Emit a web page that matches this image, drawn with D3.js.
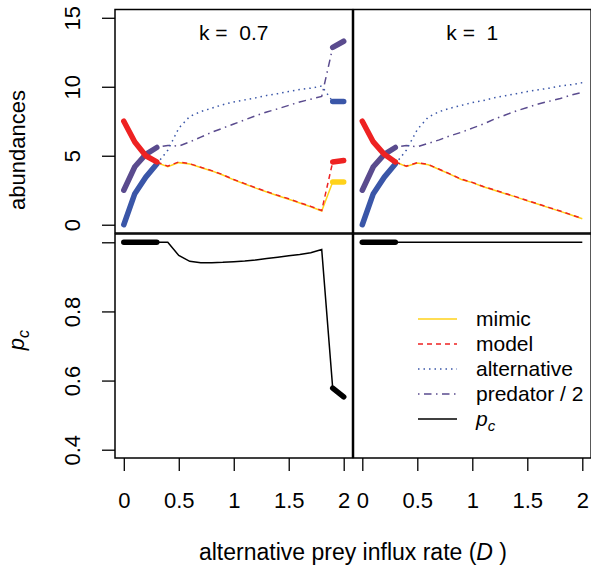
<!DOCTYPE html>
<html lang="en">
<head>
<meta charset="UTF-8">
<title>abundances and p_c</title>
<script src="https://cdn.jsdelivr.net/npm/d3@7"></script>
<style>
    body { margin: 0; background: #fff; }
    svg { display: block; }
    text { font-family: "Liberation Sans", Arial, Helvetica, sans-serif; fill: #000; }
    .tick line { stroke: #000; stroke-width: 1.3; }
    .tick text { font-size: 22px; }
</style>
</head>
<body>
<script>
// alternative prey influx rate
var D = [0, 0.1, 0.2, 0.3, 0.4, 0.5, 0.6, 0.7, 0.8, 0.9, 1.0, 1.1, 1.2, 1.3, 1.4, 1.5, 1.6, 1.7, 1.8, 1.9, 2.0];

// k = 0.7
var mimic07 = [null, null, null, 4.5, 4.2, 4.5, 4.4, 4.15, 3.9, 3.6, 3.25, 2.95, 2.65, 2.37, 2.1, 1.85, 1.57, 1.3, 1.0, 3.1, 3.1];
var model07 = [7.5, 6.0, 5.0, 4.55, 4.25, 4.55, 4.42, 4.17, 3.92, 3.63, 3.28, 2.98, 2.68, 2.4, 2.13, 1.88, 1.6, 1.33, 1.03, 4.55, 4.65];
var alt07   = [0, 2.25, 3.45, 4.4, 5.4, 7.0, 7.85, 8.2, 8.45, 8.7, 8.9, 9.05, 9.2, 9.37, 9.5, 9.65, 9.8, 9.9, 10.05, 8.93, 8.93];
var pred07  = [2.5, 4.2, 5.1, 5.6, 5.75, 5.7, 6.0, 6.35, 6.7, 7.0, 7.3, 7.6, 7.9, 8.17, 8.4, 8.65, 8.9, 9.1, 9.3, 12.85, 13.3];
var pc07    = [1, 1, 1, 1, 1, 0.962, 0.945, 0.941, 0.941, 0.942, 0.944, 0.946, 0.949, 0.953, 0.957, 0.961, 0.965, 0.97, 0.979, 0.578, 0.553];
var stable07 = [[0, 0.3], [1.9, 2.0]];

// k = 1
var mimic1 = [null, null, null, 4.55, 4.23, 4.48, 4.35, 4.0, 3.65, 3.28, 3.05, 2.75, 2.5, 2.25, 2.0, 1.73, 1.48, 1.22, 0.97, 0.7, 0.43];
var model1 = [7.5, 6.0, 5.1, 4.55, 4.25, 4.5, 4.37, 4.02, 3.67, 3.3, 3.07, 2.77, 2.52, 2.27, 2.02, 1.75, 1.5, 1.24, 0.99, 0.72, 0.45];
var alt1   = [0, 2.25, 3.45, 4.4, 5.4, 6.9, 7.8, 8.2, 8.45, 8.65, 8.85, 9.0, 9.2, 9.35, 9.5, 9.65, 9.78, 9.9, 10.05, 10.15, 10.3];
var pred1  = [2.5, 4.2, 5.1, 5.6, 5.75, 5.65, 5.9, 6.15, 6.45, 6.7, 7.0, 7.3, 7.65, 7.95, 8.25, 8.5, 8.75, 8.95, 9.15, 9.4, 9.6];
var pc1    = [1, 1, 1, 1, 1, 1, 1, 1, 1, 1, 1, 1, 1, 1, 1, 1, 1, 1, 1, 1, 1];
var stable1 = [[0, 0.3]];

var kLabels = ["k =  0.7", "k =  1"];
var xTicks = [0, 0.5, 1, 1.5, 2];
var abTicks = [0, 5, 10, 15];
var pcTicks = [0.4, 0.6, 0.8, 1.0];
var pcTickLabels = ["0.4", "0.6", "0.8", ""];
var legendNames = ["mimic", "model", "alternative", "predator / 2", "p_c"];

var W = 591, H = 569;
var cols = [{left: 115, right: 352.5}, {left: 353.5, right: 591.1}],
    rowTop = {top: 9.5, bottom: 233},
    rowBot = {top: 234, bottom: 458};

var colors = {mimic: "#FFD21A", model: "#EE2222", alt: "#3A56A8", pred: "#5A4B8E", pc: "#000"};
var dashes = {mimic: null, model: "5,4", alt: "1.5,4", pred: "1.5,4.5,7.5,4.5", pc: null};
var thin = 1.5, thick = 5.5;

var svg = d3.select("body").append("svg")
    .attr("width", W)
    .attr("height", H);

var panels = [
    {series: {mimic: mimic07, model: model07, alt: alt07, pred: pred07}, pc: pc07, stable: stable07},
    {series: {mimic: mimic1, model: model1, alt: alt1, pred: pred1}, pc: pc1, stable: stable1}
];

function isStable(d, ranges) {
    return ranges.some(function (r) { return d >= r[0] - 1e-9 && d <= r[1] + 1e-9; });
}

// a point belongs to the thin part if it touches a pair that is not fully stable
function isThin(i, ranges) {
    var prev = i > 0 && !(isStable(D[i - 1], ranges) && isStable(D[i], ranges));
    var next = i < D.length - 1 && !(isStable(D[i], ranges) && isStable(D[i + 1], ranges));
    return prev || next;
}

function drawSeries(g, x, y, values, ranges, color, dash) {
    var thickLine = d3.line()
        .defined(function (v, i) { return v != null && isStable(D[i], ranges); })
        .x(function (v, i) { return x(D[i]); })
        .y(function (v) { return y(v); });
    var thinLine = d3.line()
        .defined(function (v, i) { return v != null && isThin(i, ranges); })
        .x(function (v, i) { return x(D[i]); })
        .y(function (v) { return y(v); });

    g.append("path")
        .attr("d", thinLine(values))
        .attr("fill", "none")
        .attr("stroke", color)
        .attr("stroke-width", thin)
        .attr("stroke-dasharray", dash);
    g.append("path")
        .attr("d", thickLine(values))
        .attr("fill", "none")
        .attr("stroke", color)
        .attr("stroke-width", thick)
        .attr("stroke-linecap", "round")
        .attr("stroke-linejoin", "round");
}

panels.forEach(function (p, c) {
    var col = cols[c];
    var x = d3.scaleLinear().domain([-0.08, 2.08]).range([col.left, col.right]);
    var yAb = d3.scaleLinear().domain([-0.6, 15.6]).range([rowTop.bottom, rowTop.top]);
    var yPc = d3.scaleLinear().domain([0.376, 1.024]).range([rowBot.bottom, rowBot.top]);

    // top panel: abundances
    var gt = svg.append("g");
    ["mimic", "pred", "alt", "model"].forEach(function (key) {
        drawSeries(gt, x, yAb, p.series[key], p.stable, colors[key], dashes[key]);
    });
    gt.append("text")
        .attr("x", (col.left + col.right) / 2)
        .attr("y", 40)
        .attr("text-anchor", "middle")
        .style("font-size", "21px")
        .style("white-space", "pre")
        .text(kLabels[c]);

    // bottom panel: p_c
    var gb = svg.append("g");
    drawSeries(gb, x, yPc, p.pc, p.stable, colors.pc, null);

    [rowTop, rowBot].forEach(function (r) {
        svg.append("rect")
            .attr("x", col.left)
            .attr("y", r.top)
            .attr("width", col.right - col.left)
            .attr("height", r.bottom - r.top)
            .attr("fill", "none")
            .attr("stroke", "#000")
            .attr("stroke-width", 1.5);
    });

    // x axis under the bottom panel
    var xa = svg.append("g")
        .attr("transform", "translate(0," + rowBot.bottom + ")")
        .call(d3.axisBottom(x).tickValues(xTicks).tickSize(13).tickFormat(d3.format("")));
    xa.select(".domain").remove();
    xa.selectAll(".tick text").attr("y", 50).attr("dy", 0);

    if (c === 0) {
        var ya = svg.append("g")
            .attr("transform", "translate(" + col.left + ",0)")
            .call(d3.axisLeft(yAb).tickValues(abTicks).tickSize(13));
        ya.select(".domain").remove();
        ya.selectAll(".tick text")
            .attr("x", 0).attr("dy", 0).attr("y", -35)
            .attr("text-anchor", "middle")
            .attr("transform", "rotate(-90)");

        var yb = svg.append("g")
            .attr("transform", "translate(" + col.left + ",0)")
            .call(d3.axisLeft(yPc).tickValues(pcTicks).tickSize(13)
                .tickFormat(function (d, i) { return pcTickLabels[i]; }));
        yb.select(".domain").remove();
        yb.selectAll(".tick text")
            .attr("x", 0).attr("dy", 0).attr("y", -35)
            .attr("text-anchor", "middle")
            .attr("transform", "rotate(-90)");
    }
});

// axis titles
svg.append("text")
    .attr("transform", "translate(25,150) rotate(-90)")
    .attr("text-anchor", "middle")
    .style("font-size", "22px")
    .text("abundances");

var pcLab = svg.append("text")
    .attr("transform", "translate(24,340) rotate(-90)")
    .attr("text-anchor", "middle")
    .style("font-size", "22px");
pcLab.append("tspan").style("font-style", "italic").text("p");
pcLab.append("tspan").style("font-style", "italic").style("font-size", "16px").attr("dy", 5).text("c");

var xLab = svg.append("text")
    .attr("x", 353)
    .attr("y", 560)
    .attr("text-anchor", "middle")
    .style("font-size", "23px");
xLab.append("tspan").text("alternative prey influx rate (");
xLab.append("tspan").style("font-style", "italic").text("D");
xLab.append("tspan").text(" )");

// legend
var legKeys = ["mimic", "model", "alt", "pred", "pc"];
var leg = svg.append("g");
legKeys.forEach(function (key, i) {
    var yy = 319 + i * 25;
    leg.append("line")
        .attr("x1", 418).attr("x2", 457)
        .attr("y1", yy).attr("y2", yy)
        .attr("stroke", colors[key])
        .attr("stroke-width", thin)
        .attr("stroke-dasharray", dashes[key]);
    var t = leg.append("text")
        .attr("x", 476)
        .attr("y", yy + 7)
        .style("font-size", "21px");
    if (key === "pc") {
        t.append("tspan").style("font-style", "italic").text("p");
        t.append("tspan").style("font-style", "italic").style("font-size", "15px").attr("dy", 5).text("c");
    } else {
        t.text(legendNames[i]);
    }
});
</script>
</body>
</html>
